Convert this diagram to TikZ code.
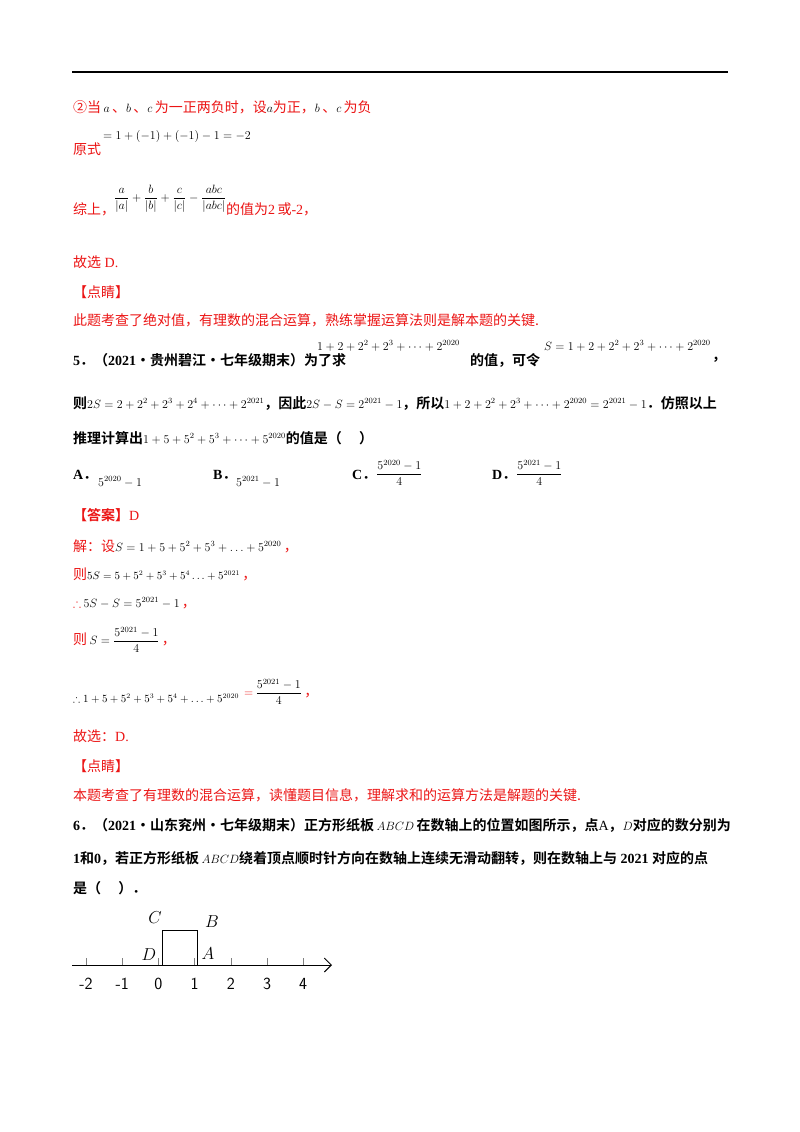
\documentclass[tikz,border=0pt]{standalone}
\usepackage{amsmath,amssymb}
\usepackage{fontspec}
\usetikzlibrary{arrows.meta}
\setmainfont{Liberation Serif}
\newfontfamily\cjk{Noto Sans CJK SC}
\newfontfamily\cjkb{Noto Sans CJK SC Bold}
\definecolor{rd}{RGB}{235,20,20}
\newcommand{\mm}[1]{{\fontsize{12}{14}\selectfont$#1$}}
\newcommand{\ms}[1]{{\fontsize{10.5}{12}\selectfont$#1$}}
\begin{document}
\begin{tikzpicture}[x=1pt,y=-1pt,
  tx/.style={anchor=west,inner sep=0pt,font=\fontsize{14}{16}\selectfont},
  rt/.style={tx,text=rd},
  bt/.style={tx}]
\useasboundingbox (0,0) rectangle (800,1132);
\draw[line width=1.2pt] (72,72) -- (728,72);
\node[rt] (l1) at (73,107) {\cjk ②当\,\textcolor{black}{\mm{a}}\,、\textcolor{black}{\mm{b}}\,、\textcolor{black}{\mm{c}}\,为一正两负时，设\textcolor{black}{\mm{a}}为正，\textcolor{black}{\mm{b}}\,、\textcolor{black}{\mm{c}}\,为负};
\node[rt] (l2) at (73,149) {\cjk 原式};
\node[tx,font=\fontsize{13}{15}\selectfont] (l2m) at (103,136) {$=1+\left(-1\right)+\left(-1\right)-1=-2$};
\node[rt] (l3) at (73,209) {\cjk 综上，};
\node[tx,font=\fontsize{11.5}{14}\selectfont] (l3m) at (114,199) {$\dfrac{a}{|a|}+\dfrac{b}{|b|}+\dfrac{c}{|c|}-\dfrac{abc}{|abc|}$};
\node[rt,anchor=south west] (l3b) at (226,216) {{\cjk 的值为}2\,{\cjk 或}-2{\cjk ，}};
\node[rt] (l4) at (73,262) {{\cjk 故选} D.};
\node[rt] (l5) at (73,292) {\cjk 【点睛】};
\node[rt] (l6) at (73,320) {\cjk 此题考查了绝对值，有理数的混合运算，熟练掌握运算法则是解本题的关键.};
\node[bt] (q1) at (73,360) {\textbf{5}{\cjkb ．（}\textbf{2021}{\cjkb ·贵州碧江·七年级期末）为了求}};
\node[tx] (q1m) at (317,346) {\mm{1+2+2^2+2^3+\cdots+2^{2020}}};
\node[bt] (q1b) at (470,360) {\cjkb 的值，可令};
\node[tx] (q1n) at (544,346) {\mm{S=1+2+2^2+2^3+\cdots+2^{2020}}};
\node[bt] (q1c) at (712,360) {\cjkb ，};
\node[bt] (q2) at (73,403) {{\cjkb 则}\mm{2S=2+2^2+2^3+2^4+\cdots+2^{2021}}{\cjkb ，因此}\mm{2S-S=2^{2021}-1}{\cjkb ，所以}\mm{1+2+2^2+2^3+\cdots+2^{2020}=2^{2021}-1}{\cjkb ．仿照以上}};
\node[bt] (q3) at (73,438) {{\cjkb 推理计算出}\mm{1+5+5^2+5^3+\cdots+5^{2020}}{\cjkb 的值是（\quad\ ）}};
\node[bt] (oA) at (73,475) {\textbf{A}{\cjkb ．}};
\node[tx] (oAm) at (98,482) {\mm{5^{2020}-1}};
\node[bt] (oB) at (213,475) {\textbf{B}{\cjkb ．}};
\node[tx] (oBm) at (236,482) {\mm{5^{2021}-1}};
\node[bt] (oC) at (352,475) {\textbf{C}{\cjkb ．}};
\node[tx] (oCm) at (376,473) {\mm{\dfrac{5^{2020}-1}{4}}};
\node[bt] (oD) at (492,475) {\textbf{D}{\cjkb ．}};
\node[tx] (oDm) at (516,473) {\mm{\dfrac{5^{2021}-1}{4}}};
\node[rt] (a1) at (73,515) {{\cjkb 【答案】}D};
\node[rt] (a2) at (73,546) {{\cjk 解：设}\textcolor{black}{\mm{S=1+5+5^2+5^3+\ldots+5^{2020}}}\,{\cjk ，}};
\node[rt] (a3) at (73,574) {{\cjk 则}\textcolor{black}{\ms{5S=5+5^2+5^3+5^4\ldots+5^{2021}}}\,{\cjk ，}};
\node[rt] (a4) at (73,603) {\mm{\therefore}\,\textcolor{black}{\mm{5S-S=5^{2021}-1}}\,{\cjk ，}};
\node[rt] (a5) at (73,640) {{\cjk 则}\,\textcolor{black}{\mm{S=\dfrac{5^{2021}-1}{4}}}\,{\cjk ，}};
\node[tx] (a6) at (73,699) {\ms{\therefore 1+5+5^2+5^3+5^4+\ldots+5^{2020}}};
\node[rt] (a6b) at (244,692) {\mm{=}\,\textcolor{black}{\mm{\dfrac{5^{2021}-1}{4}}}\,{\cjk ，}};
\node[rt] (a7) at (73,736) {{\cjk 故选：}D.};
\node[rt] (b1) at (73,766) {\cjk 【点睛】};
\node[rt] (b2) at (73,795) {\cjk 本题考查了有理数的混合运算，读懂题目信息，理解求和的运算方法是解题的关键.};
\node[bt] (c1) at (73,825) {\textbf{6}{\cjkb ．（}\textbf{2021}{\cjkb ·山东兖州·七年级期末）正方形纸板}\,\mm{ABCD}\,{\cjkb 在数轴上的位置如图所示，点}A{\cjkb ，}\mm{D}{\cjkb 对应的数分别为}};
\node[bt] (c2) at (73,858) {\textbf{1}{\cjkb 和}\textbf{0}{\cjkb ，若正方形纸板}\,\mm{ABCD}{\cjkb 绕着顶点顺时针方向在数轴上连续无滑动翻转，则在数轴上与}\textbf{ 2021 }{\cjkb 对应的点}};
\node[bt] (c3) at (73,888) {\cjkb 是（\quad\ ）．};
% figure
\coordinate (ax0) at (72,965);
\coordinate (ax1) at (332,965);
\draw[line width=0.9pt,-{Straight Barb[length=7pt]}] (ax0) -- (ax1);
\foreach \v [count=\i] in {-2,-1,0,1,2,3,4}{
  \draw[gray] ({86+36.2*(\i-1)},958) -- ({86+36.2*(\i-1)},965);
  \node[font=\fontsize{17}{19}\selectfont\sffamily] (n\i) at ({86+36.2*(\i-1)},984) {\v};
}
\draw[line width=0.9pt] (162,930) rectangle (197,965);
\node[font=\fontsize{16}{18}\selectfont] (C) at (155,918) {$C$};
\node[font=\fontsize{16}{18}\selectfont] (B) at (212,922) {$B$};
\node[font=\fontsize{16}{18}\selectfont] (D) at (149,955) {$D$};
\node[font=\fontsize{16}{18}\selectfont] (A) at (208,954) {$A$};
\end{tikzpicture}
\end{document}
